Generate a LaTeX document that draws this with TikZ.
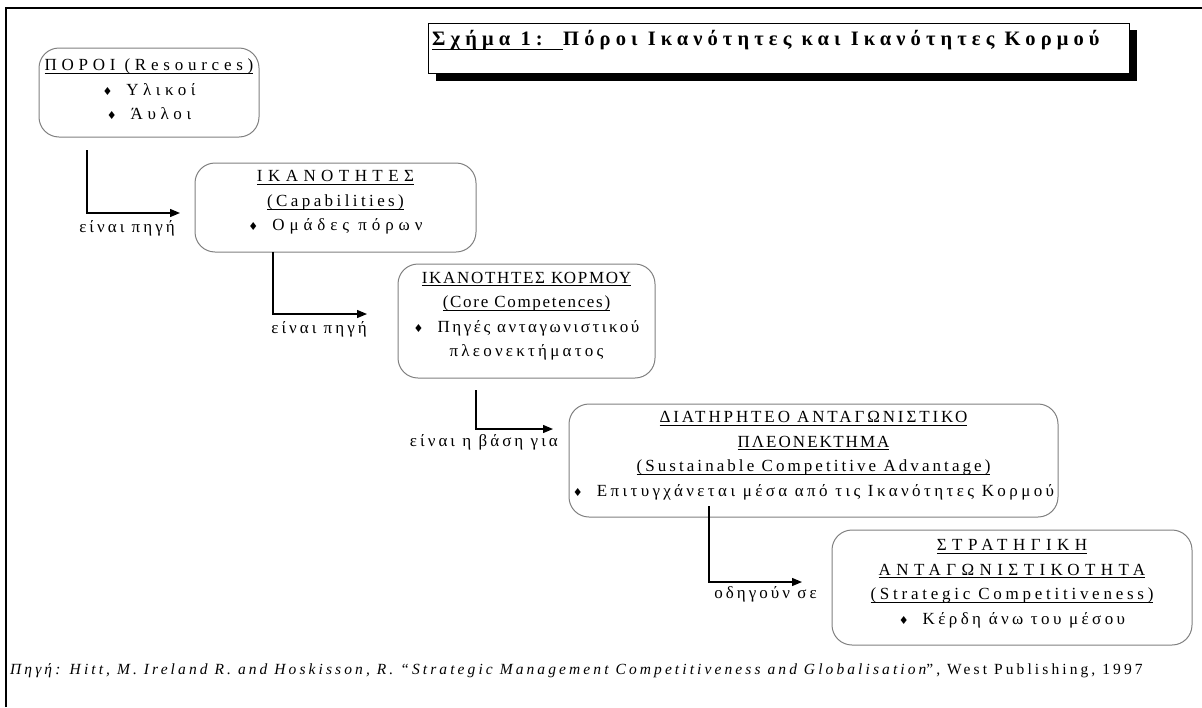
\documentclass[tikz,border=0pt]{standalone}
\usepackage{fontspec}
\setmainfont{Liberation Serif}
\newfontfamily\ttlf[LetterSpace=25]{Liberation Serif}
\newfontfamily\ftf[LetterSpace=20]{Liberation Serif}
\newfontfamily\symf{DejaVu Sans}
\usetikzlibrary{arrows.meta}
\newcommand\lsp[2]{{\addfontfeatures{LetterSpace=#1}#2}}
\newcommand\ulin[1]{\setbox0\hbox{#1}\rlap{\vrule height -2.4pt depth 3.4pt width \wd0}\box0}
\newcommand\ulbold[1]{\setbox0\hbox{#1}\rlap{\vrule height -3.5pt depth 5.3pt width \wd0}\box0}
\newcommand\dia{{\symf\fontsize{11}{10}\selectfont ♦}\hspace{14pt}}
\tikzset{
  box/.style={draw=black!50, line width=1pt, rounded corners=20pt, inner sep=0pt},
  btext/.style={align=center, font=\fontsize{17}{24.5}\selectfont, inner sep=0pt},
  conn/.style={line width=1.3pt, -{Triangle[length=10pt,width=8pt]}},
  lbl/.style={font=\fontsize{17}{20}\selectfont\addfontfeatures{LetterSpace=18}, inner sep=0pt, anchor=east},
}
\begin{document}
\begin{tikzpicture}[x=1pt,y=-1pt]
\useasboundingbox (0,0) rectangle (1202,707);
% frame
\draw[line width=2.5pt] (6,707) -- (6,8) -- (1202,8);
% title
\fill (436,30) rectangle (1137,81);
\node[draw=black, line width=0.8pt, fill=white, minimum width=701pt, minimum height=50pt, inner sep=0pt] (tb) at (778.5,48) {};
\node[anchor=base west, inner sep=0pt, font=\ttlf\bfseries\fontsize{20.5}{22}\selectfont] (tt) at (432,45)
  {\ulbold{Σχήμα 1:\ \ }Πόροι Ικανότητες και Ικανότητες Κορμού};
% boxes
\node[box, minimum width=220pt, minimum height=89pt] (b1) at (149,92.5) {};
\node[box, minimum width=281pt, minimum height=89pt] (b2) at (335.5,207.5) {};
\node[box, minimum width=257pt, minimum height=114pt] (b3) at (526.5,321) {};
\node[box, minimum width=489pt, minimum height=113pt] (b4) at (813.5,460.5) {};
\node[box, minimum width=360pt, minimum height=115pt] (b5) at (1012,587.5) {};
% box texts
\node[btext] (t1) at ([yshift=3pt]b1.center)
  {\ulin{\lsp{28}{ΠΟΡΟΙ (Resources)}}\\ \dia\lsp{27}{Υλικοί}\\ \dia\lsp{27}{Άυλοι}};
\node[btext] (t2) at ([yshift=5pt]b2.center)
  {\ulin{\lsp{32}{ΙΚΑΝΟΤΗΤΕΣ}}\\ \ulin{\lsp{20}{(Capabilities)}}\\ \dia\lsp{29}{Ομάδες πόρων}};
\node[btext] (t3) at ([yshift=5pt]b3.center)
  {\ulin{\lsp{10}{ΙΚΑΝΟΤΗΤΕΣ ΚΟΡΜΟΥ}}\\ \ulin{\lsp{10}{(Core Competences)}}\\ \dia\lsp{15}{Πηγές ανταγωνιστικού}\\ \lsp{19}{πλεονεκτήματος}};
\node[btext] (t4) at ([yshift=5pt]b4.center)
  {\ulin{\lsp{17}{ΔΙΑΤΗΡΗΤΕΟ ΑΝΤΑΓΩΝΙΣΤΙΚΟ}}\\ \ulin{\lsp{12}{ΠΛΕΟΝΕΚΤΗΜΑ}}\\ \ulin{\lsp{18}{(Sustainable Competitive Advantage)}}\\ \dia\lsp{20}{Επιτυγχάνεται μέσα από τις Ικανότητες Κορμού}};
\node[btext] (t5) at ([yshift=4pt]b5.center)
  {\ulin{\lsp{32}{ΣΤΡΑΤΗΓΙΚΗ}}\\ \ulin{\lsp{32}{ΑΝΤΑΓΩΝΙΣΤΙΚΟΤΗΤΑ}}\\ \ulin{\lsp{22}{(Strategic Competitiveness)}}\\ \dia\lsp{20}{Κέρδη άνω του μέσου}};
% connectors
\coordinate (c1s) at (87,150);  \coordinate (c1e) at (180,213);
\coordinate (c2s) at (273,252); \coordinate (c2e) at (367,314);
\coordinate (c3s) at (476,390); \coordinate (c3e) at (553,429);
\coordinate (c4s) at (709,506); \coordinate (c4e) at (802,582);
\draw[conn] (c1s) |- (c1e);
\draw[conn] (c2s) |- (c2e);
\draw[conn] (c3s) |- (c3e);
\draw[conn] (c4s) |- (c4e);
\node[lbl] (l1) at (175,228) {είναι πηγή};
\node[lbl] (l2) at (367,329) {είναι πηγή};
\node[lbl] (l3) at (558,442) {είναι η βάση για};
\node[lbl] (l4) at (817,594) {οδηγούν σε};
% footer
\node[anchor=base west, inner sep=0pt, font=\ftf\fontsize{15.5}{17}\selectfont] (ft) at (10,674)
  {\itshape Πηγή: Hitt, M. Ireland R. and Hoskisson, R. “Strategic Management Competitiveness and Globalisation\upshape”, West Publishing, 1997};
\end{tikzpicture}
\end{document}
